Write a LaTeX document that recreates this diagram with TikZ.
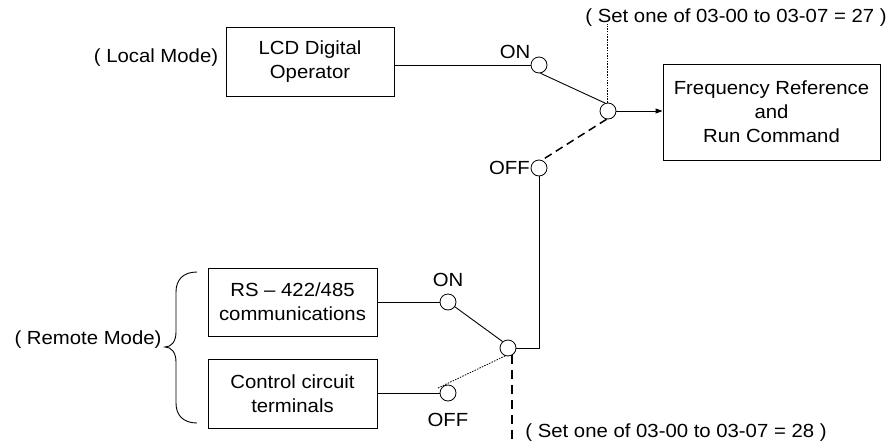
\documentclass[tikz,border=0pt]{standalone}
\usepackage{fontspec}
\setmainfont[FakeStretch=1.07]{Liberation Sans}
\usetikzlibrary{arrows.meta}
\begin{document}
\begin{tikzpicture}[x=1pt,y=-1pt,
  font=\fontsize{19}{24}\selectfont,
  box/.style={draw, line width=0.9pt, inner sep=0pt, align=center},
  sw/.style={draw, circle, line width=0.8pt, minimum size=16pt, inner sep=0pt, fill=white},
  wire/.style={line width=0.9pt},
  fdot/.style={line width=0.8pt, dash pattern=on 1.5pt off 1.2pt},
  bdash/.style={line width=1.5pt, dash pattern=on 8pt off 5pt},
  vdash/.style={line width=1.5pt, dash pattern=on 9pt off 6pt},
  lbl/.style={inner sep=0pt}]
\useasboundingbox (0,0) rectangle (889,445);
% top part
\node[box, minimum width=168pt, minimum height=69pt] (lcd) at (310,61.5) {LCD Digital\\Operator};
\node[lbl] (local) at (156,58) {( Local Mode)};
\node[sw] (on1) at (539,65) {};
\node[lbl] (on1l) at (515,52) {ON};
\node[sw] (c1) at (608,111) {};
\node[sw] (off1) at (539,168) {};
\node[lbl, anchor=east] (off1l) at (530,168) {OFF};
\node[box, minimum width=217pt, minimum height=96pt] (freq) at (771.5,112) {Frequency Reference\\and\\Run Command};
\node[lbl] (set27) at (736,18) {( Set one of 03-00 to 03-07 = 27 )};
% bottom part
\node[box, minimum width=169pt, minimum height=68pt] (rs) at (292.5,302) {RS – 422/485\\communications};
\node[box, minimum width=169pt, minimum height=69pt] (ctl) at (292.5,393.5) {Control circuit\\terminals};
\node[lbl] (remote) at (88,340) {( Remote Mode)};
\node[sw] (on2) at (448,302) {};
\node[lbl] (on2l) at (448,280) {ON};
\node[sw] (c2) at (508,348) {};
\node[sw] (off2) at (448,393) {};
\node[lbl] (off2l) at (448,420) {OFF};
\node[lbl] (set28) at (676,433) {( Set one of 03-00 to 03-07 = 28 )};
\coordinate (offtail) at (438,388);
\coordinate (bot) at (516,445);
% connectors
\draw[wire] (lcd.east |- on1.west) -- (on1.west);
\draw[wire] (on1.-80) -- (c1.110);
\draw[fdot] (c1.95) -- ([yshift=3pt]c1.95 |- set27.south);
\draw[wire,-{Triangle[length=7pt,width=5pt]}] (c1.east) -- (freq.west |- c1.east);
\draw[bdash] (c1.-100) -- (off1.70);
\draw[wire] (off1.south) |- (c2.east);
\draw[wire] (rs.east |- on2.west) -- (on2.west);
\draw[wire] (ctl.east |- off2.west) -- (off2.west);
\draw[wire] (on2.-35) -- (c2.130);
\draw[fdot] (c2.-110) -- (offtail);
\draw[vdash] (c2.-60) -- (c2.-60 |- bot);
% brace
\draw[wire] (197,272) .. controls (183,272) and (176,280) .. (176,292) -- (176,332)
  .. controls (176,342) and (171,347) .. (165,347)
  .. controls (171,347) and (176,352) .. (176,362) -- (176,403)
  .. controls (176,415) and (183,423) .. (197,423);
\end{tikzpicture}
\end{document}
